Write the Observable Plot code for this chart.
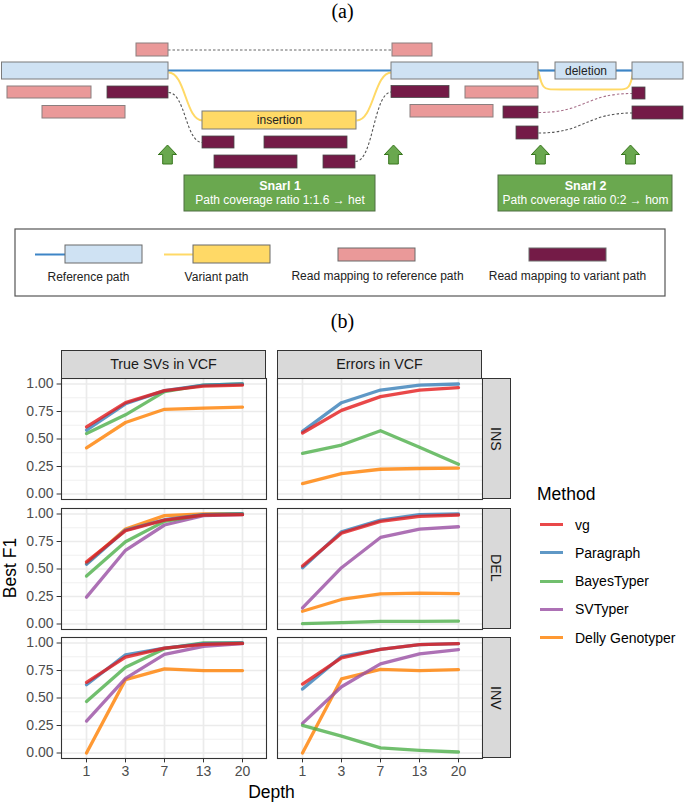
<!DOCTYPE html>
<html><head><meta charset="utf-8">
<script src="https://cdn.jsdelivr.net/npm/d3@7"></script>
<script src="https://cdn.jsdelivr.net/npm/@observablehq/plot@0.6"></script>
<style>
body{margin:0;background:#fff;font-family:"Liberation Sans",Arial,sans-serif;}
#root{position:relative;width:685px;height:802px;overflow:hidden;background:#fff;}
.strip{position:absolute;background:#D9D9D9;border:1.1px solid #333;box-sizing:border-box;display:flex;align-items:center;justify-content:center;color:#1A1A1A;font-size:14.3px;}
.vstrip{writing-mode:vertical-rl;}
.serif{font-family:"Liberation Serif","DejaVu Serif",serif;font-size:20px;color:#000;}
</style></head><body><div id="root"></div><script>
// ---------- chart data (panel b) ----------
const depths = ["1", "3", "7", "13", "20"];
const methods = ["vg", "Paragraph", "BayesTyper", "SVTyper", "Delly Genotyper"];
const methodColors = ["#E41A1C", "#377EB8", "#4DAF4A", "#984EA3", "#FF7F00"];
const drawOrder = ["Delly Genotyper", "SVTyper", "BayesTyper", "Paragraph", "vg"];
const vcfSets = ["True SVs in VCF", "Errors in VCF"];
const svTypes = ["INS", "DEL", "INV"];
const yTicks = [0, 0.25, 0.5, 0.75, 1];
const yMinor = [0.125, 0.375, 0.625, 0.875];

const trueINS = {
  "vg": [0.61, 0.83, 0.94, 0.98, 0.99],
  "Paragraph": [0.58, 0.82, 0.94, 0.99, 1.00],
  "BayesTyper": [0.55, 0.72, 0.93, 0.99, 1.00],
  "Delly Genotyper": [0.42, 0.65, 0.77, 0.78, 0.79]
};
const errINS = {
  "vg": [0.555, 0.76, 0.885, 0.945, 0.967],
  "Paragraph": [0.57, 0.83, 0.945, 0.99, 1.00],
  "BayesTyper": [0.37, 0.445, 0.575, 0.425, 0.27],
  "Delly Genotyper": [0.095, 0.185, 0.225, 0.232, 0.236]
};
const trueDEL = {
  "vg": [0.565, 0.848, 0.945, 0.99, 0.994],
  "Paragraph": [0.543, 0.854, 0.948, 0.994, 1.00],
  "BayesTyper": [0.436, 0.747, 0.933, 0.994, 1.00],
  "SVTyper": [0.244, 0.67, 0.90, 0.985, 0.994],
  "Delly Genotyper": [0.55, 0.863, 0.985, 1.00, 1.00]
};
const errDEL = {
  "vg": [0.527, 0.826, 0.933, 0.979, 0.991],
  "Paragraph": [0.512, 0.838, 0.945, 0.994, 1.00],
  "BayesTyper": [0.003, 0.012, 0.024, 0.024, 0.027],
  "SVTyper": [0.146, 0.512, 0.787, 0.863, 0.884],
  "Delly Genotyper": [0.116, 0.223, 0.274, 0.28, 0.277]
};
const trueINV = {
  "vg": [0.642, 0.872, 0.954, 0.988, 0.996],
  "Paragraph": [0.621, 0.893, 0.954, 0.994, 1.00],
  "BayesTyper": [0.468, 0.78, 0.948, 1.00, 1.00],
  "SVTyper": [0.29, 0.679, 0.896, 0.969, 0.994],
  "Delly Genotyper": [0.0, 0.667, 0.765, 0.749, 0.749]
};
const errINV = {
  "vg": [0.627, 0.865, 0.942, 0.985, 0.994],
  "Paragraph": [0.581, 0.878, 0.942, 0.985, 0.994],
  "BayesTyper": [0.251, 0.153, 0.046, 0.024, 0.009],
  "SVTyper": [0.269, 0.602, 0.81, 0.902, 0.939],
  "Delly Genotyper": [0.0, 0.673, 0.761, 0.749, 0.758]
};
const panelValues = [[trueINS, errINS], [trueDEL, errDEL], [trueINV, errINV]];

// ---------- diagram data (panel a), in diagram units ----------
const refNodes = [
  {x1: 1.5, x2: 168, y1: 62, y2: 79, label: ""},
  {x1: 391, x2: 538, y1: 62, y2: 79, label: ""},
  {x1: 555, x2: 616, y1: 62, y2: 79, label: "deletion"},
  {x1: 632, x2: 683, y1: 62, y2: 79, label: ""}
];
const varNodes = [{x1: 202, x2: 356, y1: 111, y2: 129, label: "insertion"}];
const refReads = [
  {x1: 136, x2: 168, y1: 43, y2: 56}, {x1: 392, x2: 432, y1: 43, y2: 56},
  {x1: 7, x2: 91, y1: 86, y2: 98}, {x1: 465, x2: 538, y1: 86, y2: 98},
  {x1: 42, x2: 125, y1: 105.5, y2: 118}, {x1: 410, x2: 493, y1: 104.5, y2: 117}
];
const varReads = [
  {x1: 107, x2: 168, y1: 86, y2: 98}, {x1: 391, x2: 449, y1: 85.5, y2: 97.5},
  {x1: 202, x2: 234, y1: 136, y2: 148}, {x1: 264, x2: 347, y1: 136, y2: 148},
  {x1: 214, x2: 297, y1: 155, y2: 168}, {x1: 323, x2: 355, y1: 155, y2: 168},
  {x1: 503, x2: 538, y1: 106, y2: 118}, {x1: 516, x2: 538, y1: 126, y2: 139},
  {x1: 632, x2: 645, y1: 87, y2: 99}, {x1: 632, x2: 683, y1: 106, y2: 119}
];
const refEdges = [{x1: 168, x2: 391, y: 70}, {x1: 538, x2: 555, y: 70}, {x1: 616, x2: 632, y: 70}];
const varEdges = [{x1: 168, y1: 72, x2: 202, y2: 120}, {x1: 356, y1: 120, x2: 391, y2: 72}];
const delBypass = [{x: 538, y: 71}, {x: 542, y: 89}, {x: 552, y: 89}, {x: 620, y: 89}, {x: 629, y: 89}, {x: 633, y: 71}];
const readJumps = [
  {x1: 168, y1: 92, x2: 202, y2: 142, c: "#555"},
  {x1: 355, y1: 161, x2: 391, y2: 91.5, c: "#555"},
  {x1: 538, y1: 112, x2: 632, y2: 93, c: "#A8708A"},
  {x1: 538, y1: 132.5, x2: 632, y2: 112.5, c: "#555"}
];
const readSpan = [{x1: 168, x2: 392, y: 49.5}];
const arrowCenters = [167, 393, 540, 630];
const arrowShape = [[-9, 154], [0, 144.5], [9, 154], [4.8, 154], [4.8, 163.5], [-4.8, 163.5], [-4.8, 154], [-9, 154]];
const snarls = [
  {x1: 184, x2: 375, y1: 175, y2: 211, title: "Snarl 1", text: "Path coverage ratio 1:1.6 \u2192 het"},
  {x1: 498, x2: 672, y1: 175, y2: 211, title: "Snarl 2", text: "Path coverage ratio 0:2 \u2192 hom"}
];
const keyBox = [{x1: 15, x2: 665, y1: 229, y2: 296}];
const keyLines = [{x1: 35, x2: 65, y: 254, c: "#3D85C6"}, {x1: 164, x2: 193, y: 254, c: "#FFD966"}];
const keyRects = [
  {x1: 65, x2: 142, y1: 245, y2: 263, c: "#CFE2F3"},
  {x1: 193, x2: 270, y1: 245, y2: 263, c: "#FFD966"},
  {x1: 338, x2: 415, y1: 248, y2: 261, c: "#EA9999"},
  {x1: 529, x2: 606, y1: 248, y2: 261, c: "#741B47"}
];
const keyLabels = [
  {x: 88, y: 277, t: "Reference path"}, {x: 216, y: 277, t: "Variant path"},
  {x: 377, y: 276, t: "Read mapping to reference path"}, {x: 567, y: 276, t: "Read mapping to variant path"}
];

const root = document.getElementById("root");
const FONT = "Liberation Sans, Arial, sans-serif";
function place(el, left, top) {
  el.style.position = "absolute"; el.style.left = left + "px"; el.style.top = top + "px";
  root.appendChild(el); return el;
}
function div(cls, text, css) {
  const d = document.createElement("div"); if (cls) d.className = cls;
  d.textContent = text; Object.assign(d.style, css || {}); root.appendChild(d); return d;
}

// ---------- panel (a): diagram ----------
const arrowPts = arrowCenters.flatMap((cx, i) => arrowShape.map(([dx, y]) => ({id: i, x: cx + dx, y})));
const diagram = Plot.plot({
  width: 685, height: 300, margin: 0,
  style: {background: "transparent", overflow: "visible", fontFamily: FONT},
  x: {domain: [0, 685], range: [0, 685], axis: null},
  y: {domain: [0, 300], range: [0, 300], axis: null},
  marks: [
    Plot.rect(keyBox, {x1: "x1", x2: "x2", y1: "y1", y2: "y2", fill: "white", stroke: "#555", strokeWidth: 1.2}),
    Plot.ruleY(readSpan, {x1: "x1", x2: "x2", y: "y", stroke: "#666", strokeWidth: 1.1, strokeDasharray: "2.5,2"}),
    Plot.link(readJumps, {x1: "x1", y1: "y1", x2: "x2", y2: "y2", curve: "bump-x", stroke: "c", strokeWidth: 1.1, strokeDasharray: "2.5,2"}),
    Plot.ruleY(refEdges, {x1: "x1", x2: "x2", y: "y", stroke: "#3D85C6", strokeWidth: 2.2}),
    Plot.link(varEdges, {x1: "x1", y1: "y1", x2: "x2", y2: "y2", curve: "bump-x", stroke: "#FFD966", strokeWidth: 2}),
    Plot.line(delBypass, {x: "x", y: "y", curve: "basis", stroke: "#FFD966", strokeWidth: 2}),
    Plot.rect(refNodes, {x1: "x1", x2: "x2", y1: "y1", y2: "y2", fill: "#CFE2F3", stroke: "#7B7B7B", strokeWidth: 1}),
    Plot.rect(varNodes, {x1: "x1", x2: "x2", y1: "y1", y2: "y2", fill: "#FFD966", stroke: "#7B7B7B", strokeWidth: 1}),
    Plot.rect(refReads, {x1: "x1", x2: "x2", y1: "y1", y2: "y2", fill: "#EA9999", stroke: "#8A7F7F", strokeWidth: 1}),
    Plot.rect(varReads, {x1: "x1", x2: "x2", y1: "y1", y2: "y2", fill: "#741B47", stroke: "#4A4A4A", strokeWidth: 0.8}),
    Plot.text(refNodes.concat(varNodes), {x: d => (d.x1 + d.x2) / 2, y: d => (d.y1 + d.y2) / 2, text: "label", fontSize: 12, fill: "#222"}),
    Plot.line(arrowPts, {x: "x", y: "y", z: "id", fill: "#6AA84F", stroke: "#38761D", strokeWidth: 1}),
    Plot.rect(snarls, {x1: "x1", x2: "x2", y1: "y1", y2: "y2", fill: "#6AA84F", stroke: "#4F6F42", strokeWidth: 1}),
    Plot.text(snarls, {x: d => (d.x1 + d.x2) / 2, y: d => d.y1 + 10.5, text: "title", fontSize: 12.5, fontWeight: "bold", fill: "white"}),
    Plot.text(snarls, {x: d => (d.x1 + d.x2) / 2, y: d => d.y1 + 24.5, text: "text", fontSize: 12, fill: "white"}),
    Plot.ruleY(keyLines, {x1: "x1", x2: "x2", y: "y", stroke: "c", strokeWidth: 2}),
    Plot.rect(keyRects, {x1: "x1", x2: "x2", y1: "y1", y2: "y2", fill: "c", stroke: "#6A6A6A", strokeWidth: 1}),
    Plot.text(keyLabels, {x: "x", y: "y", text: "t", fontSize: 12, fill: "#222"})
  ]
});
place(diagram, 0, 0);
div("serif", "(a)", {position: "absolute", left: "0px", width: "685px", top: "0px", textAlign: "center"});
div("serif", "(b)", {position: "absolute", left: "0px", width: "685px", top: "310px", textAlign: "center"});

// ---------- panel (b): faceted line chart ----------
const panelX = [61, 277], panelY = [378, 507.5, 637], PW = 205, PH = 121;
const colorScale = {domain: methods, range: methodColors};
function rowsFor(values) {
  const out = [];
  for (const m of drawOrder) if (values[m]) values[m].forEach((v, i) => out.push({method: m, depth: depths[i], f1: v}));
  return out;
}
function panel(values, left, bottom) {
  const ml = left ? 61 : 0, mb = bottom ? 40 : 0;
  return Plot.plot({
    width: ml + PW, height: PH + mb, marginLeft: ml, marginRight: 0, marginTop: 0, marginBottom: mb,
    style: {background: "transparent", overflow: "visible", fontFamily: FONT},
    x: {type: "point", domain: depths, padding: 0.6, axis: null},
    y: {domain: [-0.05, 1.05], axis: null},
    color: colorScale,
    marks: [
      Plot.ruleY(yMinor, {stroke: "#EEEEEE", strokeWidth: 0.9}),
      Plot.ruleY(yTicks, {stroke: "#EBEBEB", strokeWidth: 1.7}),
      Plot.ruleX(depths, {stroke: "#EBEBEB", strokeWidth: 1.7}),
      Plot.line(rowsFor(values), {x: "depth", y: "f1", z: "method", stroke: "method", strokeWidth: 3.3, strokeOpacity: 0.8}),
      Plot.frame({stroke: "#333333", strokeWidth: 1.1}),
      left ? Plot.axisY(yTicks, {tickFormat: d3.format(".2f"), tickSize: 4.4, tickPadding: 3.5, fontSize: 14, fill: "#4D4D4D", stroke: "#333", label: null}) : null,
      bottom ? Plot.axisX(depths, {tickSize: 4.4, tickPadding: 3.5, fontSize: 14, fill: "#4D4D4D", stroke: "#333", label: null}) : null
    ]
  });
}
svTypes.forEach((t, r) => {
  vcfSets.forEach((s, c) => {
    const left = c === 0, bottom = r === svTypes.length - 1;
    place(panel(panelValues[r][c], left, bottom), panelX[c] - (left ? 61 : 0), panelY[r]);
  });
  div("strip vstrip", t, {left: (panelX[1] + PW) + "px", top: panelY[r] + "px", width: "28.5px", height: PH + "px"});
});
vcfSets.forEach((s, c) => {
  div("strip", s, {left: panelX[c] + "px", top: "350px", width: PW + "px", height: "28.5px"});
});
// axis titles
div("", "Best F1", {position: "absolute", left: "-40px", top: "557px", width: "100px", height: "22px", lineHeight: "22px", textAlign: "center", fontSize: "17.5px", color: "#000", transform: "rotate(-90deg)"});
div("", "Depth", {position: "absolute", left: (panelX[0]) + "px", width: (panelX[1] + PW - panelX[0]) + "px", top: "781px", lineHeight: "22px", textAlign: "center", fontSize: "17.5px", color: "#000"});
// legend
div("", "Method", {position: "absolute", left: "537px", top: "483px", lineHeight: "22px", fontSize: "17.5px", color: "#000"});
methods.forEach((m, i) => {
  const cy = 524.5 + i * 28.3;
  div("", "", {position: "absolute", left: "540px", top: (cy - 1.6) + "px", width: "23px", height: "3.2px", background: methodColors[i], opacity: 0.8});
  div("", m, {position: "absolute", left: "575px", top: (cy - 10) + "px", lineHeight: "20px", fontSize: "14px", color: "#000"});
});
</script></body></html>
